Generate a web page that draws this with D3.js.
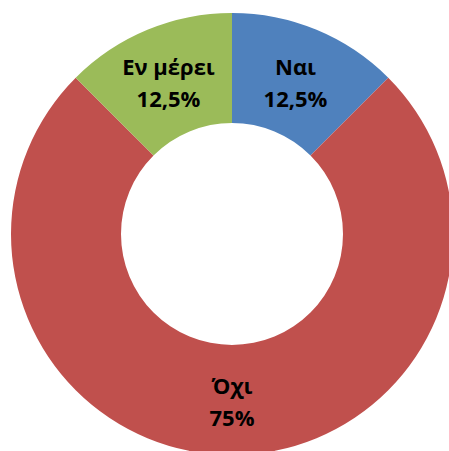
<!DOCTYPE html>
<html>
<head>
<meta charset="utf-8">
<script src="https://cdn.jsdelivr.net/npm/d3@7"></script>
<style>
  html, body { margin: 0; padding: 0; background: #fff; }
  svg { display: block; }
</style>
</head>
<body>
<svg id="chart" width="449" height="451"></svg>
<script>
// Answer categories, their shares (%) and slice colours
const categories = ["Ναι", "Όχι", "Εν μέρει"];
const shares = [12.5, 75, 12.5];
const shareLabels = ["12,5%", "75%", "12,5%"];
const colors = ["#4F81BD", "#C0504D", "#9BBB59"];

const svg = d3.select("#chart");
const cx = 232, cy = 234;
const outerR = 221, innerR = 111;

const data = categories.map((c, i) => ({ name: c, value: shares[i], label: shareLabels[i], color: colors[i] }));

const pie = d3.pie().value(d => d.value).sort(null);
const arc = d3.arc().innerRadius(innerR).outerRadius(outerR);

const g = svg.append("g").attr("transform", `translate(${cx},${cy})`);

const slices = g.selectAll("g.slice").data(pie(data)).enter().append("g").attr("class", "slice");

slices.append("path")
  .attr("d", arc)
  .attr("fill", d => d.data.color);

const labels = slices.append("text")
  .attr("transform", d => `translate(${arc.centroid(d)})`)
  .attr("text-anchor", "middle")
  .style("font-family", "'Open Sans', sans-serif")
  .style("font-weight", "bold")
  .style("font-size", "22px")
  .attr("fill", "#000");

labels.append("tspan").attr("x", 0).attr("y", -6).text(d => d.data.name);
labels.append("tspan").attr("x", 0).attr("y", 26).text(d => d.data.label);
</script>
</body>
</html>
